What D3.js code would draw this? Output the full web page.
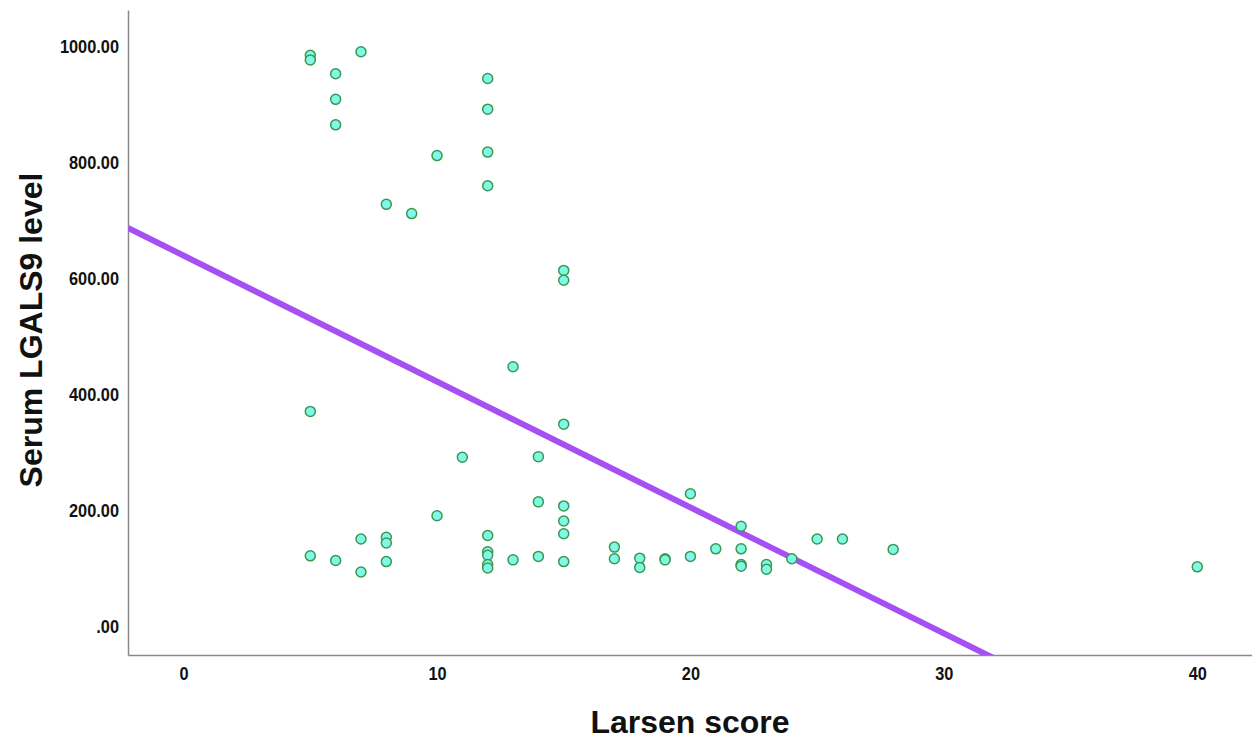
<!DOCTYPE html>
<html>
<head>
<meta charset="utf-8">
<script src="https://cdn.jsdelivr.net/npm/d3@7"></script>
<style>
body{margin:0;background:#fff}
.tick text{font-family:"Liberation Sans Narrow","Liberation Sans",Arial,sans-serif;font-weight:bold;font-size:19px;fill:#111}
.title{font-family:"Liberation Sans",Arial,sans-serif;font-weight:bold;font-size:32px;fill:#111}
</style>
</head>
<body>
<div id="chart"></div>
<script>
// Larsen score vs serum LGALS9
var larsen = [5,5,5,5, 6,6,6,6, 7,7,7, 8,8,8,8, 9, 10,10, 11,
    12,12,12,12,12,12,12,12,12, 13,13, 14,14,14, 15,15,15,15,15,15,15,
    17,17, 18,18, 19,19, 20,20, 21, 22,22,22,22, 23,23, 24, 25, 26, 28, 40]
var lgals9 = [984,976,370,121, 952,908,864,113, 990,150,93, 727,153,143,111, 711, 811,190, 291,
    944,891,817,759,156,128,122,106,100, 447,114, 292,214,120, 613,596,348,207,181,159,111,
    136,116, 117,101, 116,114, 228,120, 133, 172,133,106,103, 106,98, 116, 150, 150, 132, 102]

var xTicks = [0,10,20,30,40]
var yTicks = [0,200,400,600,800,1000]
// fit line y = a + b*x
var fitIntercept = 638.6
var fitSlope = -21.71

var width = 1252, height = 741
var svg = d3.select("#chart").append("svg").attr("width",width).attr("height",height)

var xScale = d3.scaleLinear().domain([-2.194,42.16]).range([128,1252])
var yScale = d3.scaleLinear().domain([-50,1062]).range([655,10])

svg.append("clipPath").attr("id","plot")
    .append("rect").attr("x",128).attr("y",10).attr("width",1124).attr("height",645)

var xAxis = d3.axisBottom(xScale).tickValues(xTicks).tickSize(0).tickPadding(12)
    .tickFormat(function(d){return d})
svg.append("g").attr("class","x axis").attr("transform","translate(0,655)").call(xAxis)

var yAxis = d3.axisLeft(yScale).tickValues(yTicks).tickSize(0).tickPadding(10.5)
    .tickFormat(function(d){
        return d==0 ? ".00" : d3.format(".2f")(d)
    })
svg.append("g").attr("class","y axis").attr("transform","translate(128,0)").call(yAxis)

// narrow the tick labels, the original uses a condensed face
svg.selectAll(".tick text").attr("transform","scale(0.86,1)")
svg.selectAll(".axis .domain").attr("stroke","#8a8a8a").attr("stroke-width",1.5)

var pts = larsen.map(function(d,i){return {x:d,y:lgals9[i]}})

svg.append("line")
    .attr("clip-path","url(#plot)")
    .attr("x1",xScale(xScale.domain()[0]))
    .attr("y1",yScale(fitIntercept+fitSlope*xScale.domain()[0]))
    .attr("x2",xScale(xScale.domain()[1]))
    .attr("y2",yScale(fitIntercept+fitSlope*xScale.domain()[1]))
    .attr("stroke","#a64ff2").attr("stroke-width",6)

svg.selectAll("circle.pt")
    .data(pts)
    .enter()
    .append("circle")
    .attr("class","pt")
    .attr("cx",function(d){return xScale(d.x)})
    .attr("cy",function(d){return yScale(d.y)})
    .attr("r",5)
    .attr("fill","#80fae6")
    .attr("stroke","#3a9850")
    .attr("stroke-width",1.5)

svg.append("text").attr("class","title").text("Larsen score")
    .attr("x",690).attr("y",733).attr("text-anchor","middle")
svg.append("text").attr("class","title").text("Serum LGALS9 level")
    .attr("transform","translate(42,330) rotate(-90)").attr("text-anchor","middle")
</script>
</body>
</html>
